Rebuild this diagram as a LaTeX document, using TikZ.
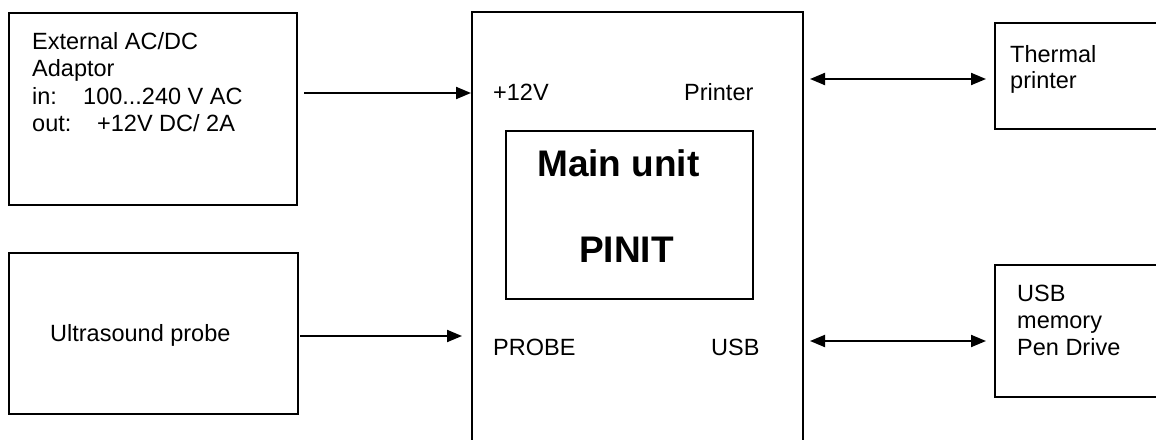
\documentclass[tikz,border=0pt]{standalone}
\usepackage{fontspec}
\setmainfont{Liberation Sans}
\usepackage{tikz}
\usetikzlibrary{arrows.meta}

\begin{document}
\begin{tikzpicture}[x=1pt, y=-1pt,
    box/.style={draw, line width=2pt, inner sep=0pt},
    lbl/.style={inner sep=0pt, font=\fontsize{23.5}{27.5}\selectfont, align=left},
    big/.style={inner sep=0pt, font=\fontsize{37}{40}\selectfont\bfseries},
    arr/.style={line width=2pt, -{Triangle[length=15pt, width=12pt]}},
    biarr/.style={line width=2pt, {Triangle[length=15pt, width=12pt]}-{Triangle[length=15pt, width=12pt]}}]
                \useasboundingbox (0,0) rectangle (1156,439);
                \clip (0,0) rectangle (1156,439);
                % boxes
                \node[box, minimum width=288pt, minimum height=192pt] (adaptor) at (153,109) {};
                \node[box, minimum width=289pt, minimum height=161pt] (probe) at (153.5,333.5) {};
                \node[box, minimum width=331pt, minimum height=458pt] (main) at (637.5,241) {};
                \node[box, minimum width=247pt, minimum height=168pt] (core) at (629.5,215) {};
                \node[box, minimum width=175pt, minimum height=106pt] (printer) at (1082.5,76) {};
                \node[box, minimum width=175pt, minimum height=132pt] (usb) at (1082.5,331) {};
                % texts
                \node[lbl, anchor=north west] (adaptortxt) at (32,32)
                    {External AC/DC\\Adaptor\\\makebox[51pt][l]{in:}100...240 V AC\\\makebox[65pt][l]{out:}+12V DC/ 2A};
                \node[lbl, anchor=base west] (probetxt) at (50,341) {Ultrasound probe};
                \node[lbl, anchor=north west, font=\fontsize{23.5}{26}\selectfont] (printertxt) at (1010,45) {Thermal\\printer};
                \node[lbl, anchor=north west, font=\fontsize{23.5}{27}\selectfont] (usbtxt) at (1017,285) {USB\\memory\\Pen Drive};
                \node[lbl, anchor=base west] (v12) at (493,100) {+12V};
                \node[lbl, anchor=base west] (prn) at (684,100) {Printer};
                \node[lbl, anchor=base west] (prb) at (493,355) {PROBE};
                \node[lbl, anchor=base west] (usbport) at (711,355) {USB};
                \node[big, anchor=base west] (title) at (537,176) {Main unit};
                \node[big, anchor=base west] (name) at (579,262) {PINIT};
                % connectors
                \draw[arr] ([shift={(6,-16)}]adaptor.east) coordinate (a0) -- (a0 -| main.west);
                \draw[arr] ([shift={(1,2.5)}]probe.east) coordinate (p0) -- ([xshift=-9pt]p0 -| main.west);
                \draw[biarr] ([shift={(6,3)}]main.east |- printer.west) coordinate (t0) -- ([xshift=-8pt]t0 -| printer.west);
                \draw[biarr] ([shift={(6,10)}]main.east |- usb.west) coordinate (u0) -- ([xshift=-8pt]u0 -| usb.west);
            \end{tikzpicture}
\end{document}
